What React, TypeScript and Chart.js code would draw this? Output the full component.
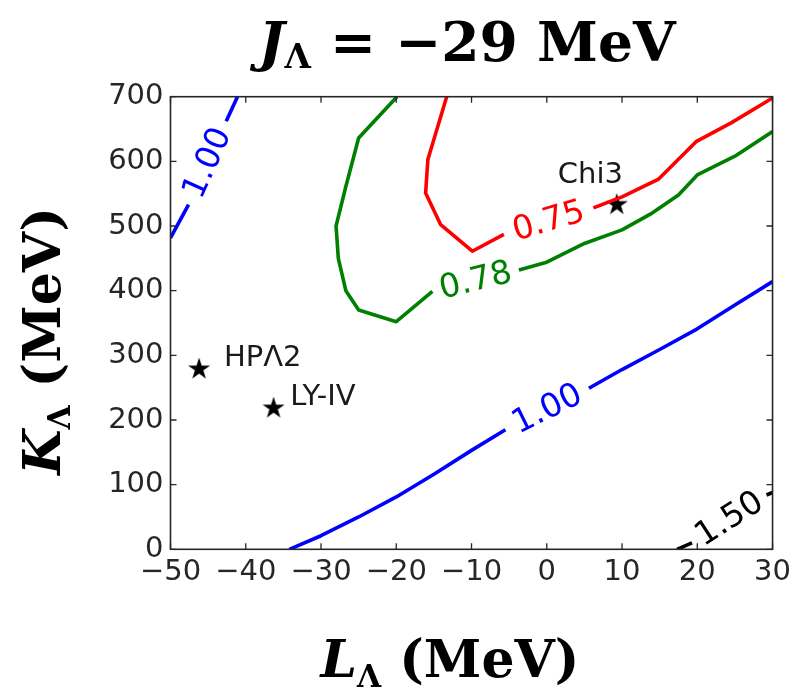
import React, { useEffect, useRef } from "react";
import { Chart, registerables } from "chart.js";
Chart.register(...registerables);

// ---------- data (L_Lambda, K_Lambda) ----------
const xTickValues = [-50, -40, -30, -20, -10, 0, 10, 20, 30];
const yTickValues = [0, 100, 200, 300, 400, 500, 600, 700];

// contour 1.00 (upper left), split at label
const blueUpperA: [number, number][] = [[-50, 481.5], [-47.6, 533]];
const blueUpperB: [number, number][] = [[-42.6, 662], [-41.1, 700]];
// contour 1.00 (lower)
const blueLowerA: [number, number][] = [[-34.2, 0], [-30, 21], [-25, 50], [-20, 81], [-15, 116], [-10, 153], [-5.5, 185]];
const blueLowerB: [number, number][] = [[5.6, 249], [10, 278], [15, 309], [20, 341], [25, 378], [30, 414]];
// contour 0.78
const greenA: [number, number][] = [[-19.9, 700], [-25, 636], [-26.7, 561], [-28, 500], [-27.7, 450], [-26.7, 400], [-25, 370], [-20, 352], [-15.2, 399]];
const greenB: [number, number][] = [[-3.7, 432], [0, 444], [5, 473], [10, 494], [14, 520], [17.5, 548], [20, 579], [25, 608], [30, 646]];
// contour 0.75
const redA: [number, number][] = [[-13.3, 700], [-15.8, 603], [-16.1, 551], [-14.1, 502], [-9.9, 461], [-5.7, 487]];
const redB: [number, number][] = [[6.2, 528], [10, 545], [14.8, 572], [19.9, 631], [24.5, 659.5], [30, 698]];
// contour 1.50
const blackA: [number, number][] = [[17.3, 0], [19.3, 10]];
const blackB: [number, number][] = [[29.2, 84], [30, 88]];

// models (stars)
const modelNames = ["HPΛ2", "LY-IV", "Chi3"];
const modelL = [-46.2, -36.3, 9.3];
const modelK = [278.7, 218.3, 533];
// text anchors for the model names (data coords)
const modelTextL = [-42.9, -34.1, 5.8];
const modelTextK = [294.6, 235, 578];
const modelTextAlign: CanvasTextAlign[] = ["left", "left", "center"];

const BLUE = "#0000ff";
const GREEN = "#008000";
const RED = "#ff0000";
const BLACK = "#000000";

const contourLabels = [
  { text: "1.00", color: BLUE, a: blueUpperA, b: blueUpperB },
  { text: "1.00", color: BLUE, a: blueLowerA, b: blueLowerB },
  { text: "0.78", color: GREEN, a: greenA, b: greenB },
  { text: "0.75", color: RED, a: redA, b: redB },
  { text: "1.50", color: BLACK, a: blackA, b: blackB },
];

const toPts = (arr: [number, number][]) => arr.map(([x, y]) => ({ x, y }));

function makeStar(): HTMLCanvasElement {
  const c = document.createElement("canvas");
  const s = 26;
  c.width = s;
  c.height = s;
  const g = c.getContext("2d")!;
  const R = 11.6;
  const r = R * 0.381966;
  g.beginPath();
  for (let i = 0; i < 10; i++) {
    const rad = i % 2 === 0 ? R : r;
    const ang = -Math.PI / 2 + (i * Math.PI) / 5;
    const px = s / 2 + rad * Math.cos(ang);
    const py = s / 2 + rad * Math.sin(ang);
    if (i === 0) g.moveTo(px, py);
    else g.lineTo(px, py);
  }
  g.closePath();
  g.fillStyle = "#000";
  g.fill();
  return c;
}

type Piece = { t: string; font: string; dy: number };
function drawRich(ctx: CanvasRenderingContext2D, pieces: Piece[], cx: number, baseline: number) {
  let total = 0;
  const widths = pieces.map((p) => {
    ctx.font = p.font;
    const w = ctx.measureText(p.t).width;
    total += w;
    return w;
  });
  let x = cx - total / 2;
  ctx.textAlign = "left";
  ctx.textBaseline = "alphabetic";
  pieces.forEach((p, i) => {
    ctx.font = p.font;
    ctx.fillText(p.t, x, baseline + p.dy);
    x += widths[i];
  });
}

const SERIF = '"DejaVu Serif", serif';

const overlayPlugin = {
  id: "overlay",
  afterDatasetsDraw(chart: any) {
    const { ctx, chartArea: a, scales } = chart;
    const xs = scales.x;
    const ys = scales.y;
    ctx.save();
    // frame
    ctx.strokeStyle = "#262626";
    ctx.lineWidth = 1.6;
    ctx.strokeRect(a.left, a.top, a.right - a.left, a.bottom - a.top);
    // inward ticks on all sides
    ctx.lineWidth = 1.3;
    const tl = 6;
    ctx.beginPath();
    xTickValues.forEach((v) => {
      const px = xs.getPixelForValue(v);
      ctx.moveTo(px, a.bottom);
      ctx.lineTo(px, a.bottom - tl);
      ctx.moveTo(px, a.top);
      ctx.lineTo(px, a.top + tl);
    });
    yTickValues.forEach((v) => {
      const py = ys.getPixelForValue(v);
      ctx.moveTo(a.left, py);
      ctx.lineTo(a.left + tl, py);
      ctx.moveTo(a.right, py);
      ctx.lineTo(a.right - tl, py);
    });
    ctx.stroke();

    // contour labels
    ctx.font = '33px "DejaVu Sans"';
    ctx.textAlign = "center";
    ctx.textBaseline = "middle";
    contourLabels.forEach((c) => {
      const p0 = c.a[c.a.length - 1];
      const p1 = c.b[0];
      const x0 = xs.getPixelForValue(p0[0]);
      const y0 = ys.getPixelForValue(p0[1]);
      const x1 = xs.getPixelForValue(p1[0]);
      const y1 = ys.getPixelForValue(p1[1]);
      const ang = Math.atan2(y1 - y0, x1 - x0);
      ctx.save();
      ctx.translate((x0 + x1) / 2, (y0 + y1) / 2);
      ctx.rotate(ang);
      ctx.fillStyle = c.color;
      ctx.fillText(c.text, 0, 1);
      ctx.restore();
    });

    // model names
    ctx.font = '29px "DejaVu Sans"';
    ctx.fillStyle = "#1a1a1a";
    ctx.textBaseline = "middle";
    modelNames.forEach((n, i) => {
      ctx.textAlign = modelTextAlign[i];
      ctx.fillText(n, xs.getPixelForValue(modelTextL[i]), ys.getPixelForValue(modelTextK[i]));
    });

    // title
    ctx.fillStyle = "#000";
    drawRich(
      ctx,
      [
        { t: "J", font: `italic bold 55px ${SERIF}`, dy: 0 },
        { t: "Λ", font: `bold 34px ${SERIF}`, dy: 7 },
        { t: " = −29 MeV", font: `bold 55px ${SERIF}`, dy: 0 },
      ],
      467,
      61
    );
    // x label
    drawRich(
      ctx,
      [
        { t: "L", font: `italic bold 52px ${SERIF}`, dy: 0 },
        { t: "Λ", font: `bold 31px ${SERIF}`, dy: 10 },
        { t: " (MeV)", font: `bold 52px ${SERIF}`, dy: 0 },
      ],
      450,
      677
    );
    // y label
    ctx.save();
    ctx.translate(60, 341);
    ctx.rotate(-Math.PI / 2);
    drawRich(
      ctx,
      [
        { t: "K", font: `italic bold 52px ${SERIF}`, dy: 0 },
        { t: "Λ", font: `bold 31px ${SERIF}`, dy: 10 },
        { t: " (MeV)", font: `bold 52px ${SERIF}`, dy: 0 },
      ],
      0,
      0
    );
    ctx.restore();
    ctx.restore();
  },
};

const minusFmt = (v: any) => String(v).replace("-", "\u2212");

export default function App() {
  const ref = useRef<HTMLCanvasElement | null>(null);
  useEffect(() => {
    document.body.style.margin = "0";
    const star = makeStar();
    const lineDs = (data: [number, number][], color: string) => ({
      data: toPts(data),
      showLine: true,
      borderColor: color,
      backgroundColor: color,
      borderWidth: 3.6,
      pointRadius: 0,
      pointHoverRadius: 0,
      tension: 0,
      fill: false,
      borderJoinStyle: "round" as const,
      borderCapStyle: "butt" as const,
    });
    const chart = new Chart(ref.current!, {
      type: "scatter",
      data: {
        datasets: [
          lineDs(blueUpperA, BLUE),
          lineDs(blueUpperB, BLUE),
          lineDs(blueLowerA, BLUE),
          lineDs(blueLowerB, BLUE),
          lineDs(greenA, GREEN),
          lineDs(greenB, GREEN),
          lineDs(redA, RED),
          lineDs(redB, RED),
          lineDs(blackA, BLACK),
          lineDs(blackB, BLACK),
          {
            data: modelL.map((x, i) => ({ x, y: modelK[i] })),
            showLine: false,
            pointStyle: star as any,
            pointRadius: 12,
            pointHoverRadius: 12,
            borderWidth: 0,
            backgroundColor: "#000",
            borderColor: "#000",
            clip: false as any,
          },
        ],
      },
      options: {
        animation: false,
        responsive: true,
        maintainAspectRatio: false,
        events: [],
        layout: { padding: { top: 96.7, right: 22.7, left: 0, bottom: 0 } },
        plugins: { legend: { display: false }, tooltip: { enabled: false }, title: { display: false } },
        scales: {
          x: {
            type: "linear",
            min: -50,
            max: 30,
            grid: { display: false, drawTicks: false },
            border: { display: false },
            ticks: {
              stepSize: 10,
              autoSkip: false,
              maxRotation: 0,
              padding: 6,
              color: "#262626",
              font: { family: '"DejaVu Sans"', size: 29 },
              callback: minusFmt,
            },
            afterFit: (s: any) => {
              s.height = 691 - 549.3;
            },
          },
          y: {
            type: "linear",
            min: 0,
            max: 700,
            grid: { display: false, drawTicks: false },
            border: { display: false },
            ticks: {
              stepSize: 100,
              autoSkip: false,
              padding: 7,
              color: "#262626",
              font: { family: '"DejaVu Sans"', size: 29 },
              callback: minusFmt,
            },
            afterFit: (s: any) => {
              s.width = 170.5;
            },
          },
        },
      },
      plugins: [overlayPlugin],
    });
    return () => chart.destroy();
  }, []);
  return (
    <div style={{ position: "fixed", left: 0, top: 0, width: 797, height: 691, background: "#fff" }}>
      <canvas ref={ref} />
    </div>
  );
}
